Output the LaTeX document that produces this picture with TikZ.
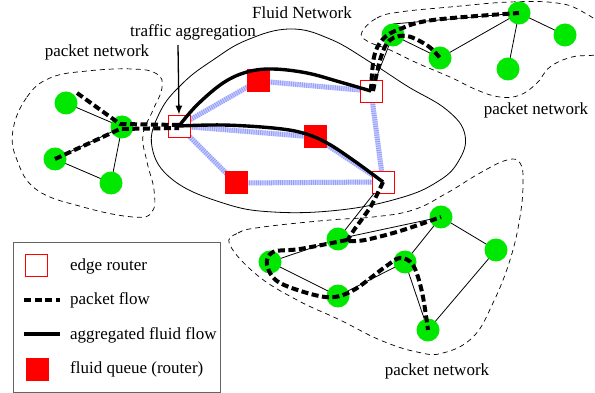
\documentclass[tikz,border=0pt]{standalone}
\usepackage{fontspec}
\setmainfont{Liberation Serif}
\usetikzlibrary{arrows.meta}
\definecolor{nodegreen}{RGB}{0,232,0}
\definecolor{linkblue}{RGB}{205,210,255}
\definecolor{linkdot}{RGB}{150,160,250}
\definecolor{legendgray}{RGB}{100,100,100}
\tikzset{
  pnode/.style={circle,fill=nodegreen,minimum size=23pt,inner sep=0pt},
  edgerouter/.style={rectangle,draw=red,fill=white,line width=0.8pt,minimum size=22pt,inner sep=0pt},
  fqueue/.style={rectangle,fill=red,minimum size=23pt,inner sep=0pt},
  bound/.style={dash pattern=on 5pt off 4pt,line width=0.7pt},
  fluidbound/.style={line width=0.8pt},
  thinlink/.style={line width=0.8pt},
  bluelink/.style={linkblue,line width=5pt,
    postaction={draw=linkdot,line width=5pt,dash pattern=on 1pt off 1.2pt}},
  pflow/.style={line width=4pt,dash pattern=on 7pt off 3.5pt},
  fflow/.style={line width=3.4pt},
  lbl/.style={font=\fontsize{17}{20}\selectfont,inner sep=0pt},
}
\begin{document}
\begin{tikzpicture}[x=1pt,y=-1pt]
\useasboundingbox (0,0) rectangle (595,393);
% boundaries
\draw[fluidbound] plot[smooth cycle,tension=0.7] coordinates {(152,147) (160,112) (183,83) (213,60) (247,40) (290,29) (330,39) (370,62) (407,86) (447,110) (465,135) (458,162) (437,182) (400,198) (340,210) (273,212) (223,203) (173,180)};
\draw[bound] plot[smooth cycle,tension=0.7] coordinates {(13,130) (27,97) (50,78) (87,71) (133,69) (157,74) (162,88) (153,110) (143,135) (147,162) (154,190) (152,212) (133,217) (83,207) (37,190) (17,160)};
\draw[bound] plot[smooth cycle,tension=0.7] coordinates {(362,32) (377,18) (400,12) (450,7) (510,2) (557,3) (583,12) (602,28) (603,52) (572,57) (550,67) (537,83) (520,95) (500,97) (477,90) (450,77) (417,63) (390,50) (367,41)};
\draw[bound] plot[smooth cycle,tension=0.7] coordinates {(230,245) (238,233) (263,227) (330,220) (373,217) (413,210) (447,193) (480,173) (507,160) (520,163) (523,182) (520,217) (510,260) (493,303) (473,337) (443,353) (417,352) (380,340) (340,320) (297,300) (257,275)};
% fluid network nodes (positions)
\coordinate (E1c) at (179,126);
\coordinate (E2c) at (371,91);
\coordinate (E3c) at (383,182);
\coordinate (Q1c) at (258,81);
\coordinate (Q2c) at (236,183);
\coordinate (Q3c) at (315,137);
% blue links
\draw[bluelink] (E1c) -- (Q1c);
\draw[bluelink] (E1c) -- (Q3c);
\draw[bluelink] (E1c) -- (Q2c);
\draw[bluelink] (Q1c) -- (E2c);
\draw[bluelink] (Q3c) -- (E3c);
\draw[bluelink] (Q2c) -- (E3c);
\draw[bluelink] (E2c) -- (E3c);
\node[edgerouter] (E1) at (E1c) {};
\node[edgerouter] (E2) at (E2c) {};
\node[edgerouter] (E3) at (E3c) {};
\node[fqueue] (Q1) at (Q1c) {};
\node[fqueue] (Q2) at (Q2c) {};
\node[fqueue] (Q3) at (Q3c) {};
% packet nodes positions
\coordinate (A1c) at (66,103);
\coordinate (A2c) at (122,127);
\coordinate (A3c) at (55,159);
\coordinate (A4c) at (111,183);
\coordinate (B1c) at (393,35);
\coordinate (B2c) at (440,58);
\coordinate (B3c) at (519,13);
\coordinate (B4c) at (565,35);
\coordinate (B5c) at (508,69);
\coordinate (C1c) at (338,239);
\coordinate (C2c) at (270,262);
\coordinate (C3c) at (338,296);
\coordinate (C4c) at (405,262);
\coordinate (C5c) at (441,217);
\coordinate (C6c) at (496,250);
\coordinate (C7c) at (428,330);
% thin links
\draw[thinlink] (A1c) -- (A2c) -- (A3c) -- (A4c) -- (A2c);
\draw[thinlink] (393,24) -- (B3c);
\draw[thinlink] (B1c) -- (B2c) -- (B3c) -- (B4c);
\draw[thinlink] (B3c) -- (B5c);
\draw[thinlink] (B1c) -- (E2);
\draw[thinlink] (E3) -- (C1c);
\draw[thinlink] (C2c) -- (C1c) -- (C5c) -- (C6c) -- (C7c) -- (C4c) -- (C5c);
\draw[thinlink] (C2c) -- (C3c) -- (C4c);
% packet nodes
\foreach \n in {A1,A2,A3,A4,B1,B2,B3,B4,B5,C1,C2,C3,C4,C5,C6,C7}
  \node[pnode] (\n) at (\n c) {};
% aggregated fluid flows
\draw[fflow] plot[smooth,tension=0.6] coordinates {(E1.center) (197,105) (223,83) (247,72) (273,69) (307,73) (340,82) (E2.center)};
\draw[fflow] plot[smooth,tension=0.6] coordinates {(E1.center) (223,125) (273,128) (303,133) (327,143) (353,160) (E3.center)};
% packet flows
\draw[pflow] (77,93) -- (120,124) -- (179,125);
\draw[pflow] (A3.center) -- (120,129) -- (179,128);
\draw[pflow] plot[smooth,tension=0.6] coordinates {(E2.center) (374,57) (383,39) (400,29) (433,20) (B3.center)};
\draw[pflow] plot[smooth,tension=0.6] coordinates {(373,91) (381,57) (390,40) (407,36) (428,46) (B2.center)};
\draw[pflow] plot[smooth,tension=0.6] coordinates {(E3.center) (371,206) (354,230) (347,241)};
\draw[pflow] plot[smooth,tension=0.6] coordinates {(349,241) (365,240) (400,231) (C5.center)};
\draw[pflow] plot[smooth,tension=0.55] coordinates {(347,240) (300,249) (273,252) (267,265) (280,283) (325,297) (352,291) (385,267) (400,258) (413,265) (422,292) (C7.center)};
% labels
\node[lbl] (fn) at (302,13) {Fluid Network};
\node[lbl] (ta) at (193,32) {traffic aggregation};
\node[lbl] (pl) at (97,52) {packet network};
\node[lbl] (pr) at (536,110) {packet network};
\node[lbl] (pb) at (437,371) {packet network};
\coordinate (arrs) at (178,45);
\draw[line width=1.3pt,-{Latex[length=9pt,width=7pt]}] (arrs) -- (E1.north);
% legend
\node[draw=legendgray,line width=1pt,minimum width=207pt,minimum height=149pt,inner sep=0pt] (legend) at (116.5,317.5) {};
\node[edgerouter] (lg1) at (36,265) {};
\node[lbl,anchor=west] (lt1) at (70,266) {edge router};
\coordinate (lp1) at (24,300);
\coordinate (lp2) at (60,300);
\draw[pflow] (lp1) -- (lp2);
\node[lbl,anchor=west] (lt2) at (70,300) {packet flow};
\coordinate (lf1) at (24,334);
\coordinate (lf2) at (60,334);
\draw[fflow] (lf1) -- (lf2);
\node[lbl,anchor=west] (lt3) at (70,335) {aggregated fluid flow};
\node[fqueue] (lg4) at (37,369) {};
\node[lbl,anchor=west] (lt4) at (70,369) {fluid queue (router)};
\end{tikzpicture}
\end{document}
